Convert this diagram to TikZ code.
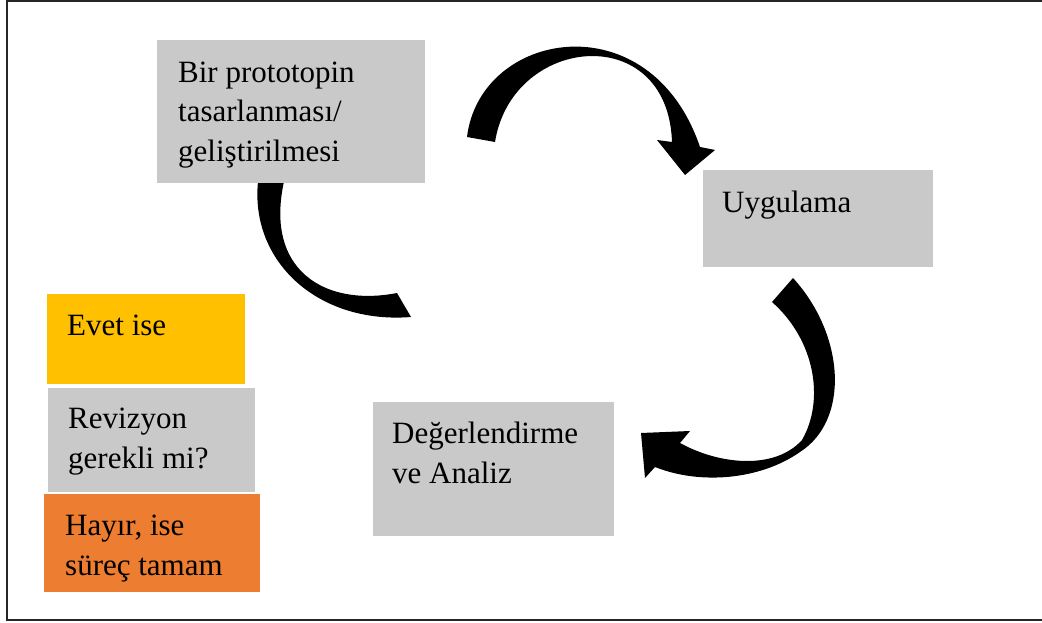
\documentclass[tikz,border=0pt]{standalone}
\usepackage{fontspec}
\setmainfont{Liberation Serif}
\usetikzlibrary{positioning,calc}

\definecolor{boxgray}{HTML}{C9C9C9}
\definecolor{evetyellow}{HTML}{FFC000}
\definecolor{hayirorange}{HTML}{ED7D31}

\begin{document}
\begin{tikzpicture}[x=1pt,y=-1pt,
		box/.style={rectangle,fill=boxgray,anchor=north west,inner sep=0pt},
		txt/.style={anchor=base west,inner sep=0pt,align=left,
			font=\fontsize{31}{40}\selectfont},
		ribbon/.style={fill=black,draw=none}]
	\useasboundingbox (0,0) rectangle (1042,623);
	\draw[line width=1.5pt,draw=black!85] (7,1) rectangle (1046,620);

	% curved arrows
	\path[ribbon] (262,160) .. controls (238,250) and (310,325) .. (411,317)
		-- (397,293) .. controls (320,308) and (255,265) .. (290,160) -- cycle;
	\path[ribbon] (467,137) .. controls (480,30) and (650,0) .. (700,147)
		-- (715,150) -- (685,175) -- (657,140) -- (672,142)
		.. controls (668,20) and (512,35) .. (495,142) -- cycle;
	\path[ribbon] (793,278) .. controls (845,335) and (850,420) .. (800,452)
		.. controls (760,480) and (700,485) .. (655,467)
		-- (645,478) -- (641,433) -- (690,431) -- (680,443)
		.. controls (720,465) and (775,470) .. (802,440)
		.. controls (825,400) and (815,340) .. (772,302) -- cycle;

	% boxes
	\node[box,minimum width=268pt,minimum height=143pt] (proto) at (157,40) {};
	\node[box,minimum width=230pt,minimum height=97pt] (uyg) at (703,170) {};
	\node[box,minimum width=241pt,minimum height=134pt] (deg) at (373,402) {};
	\node[box,fill=evetyellow,minimum width=198pt,minimum height=90pt] (evet) at (47,294) {};
	\node[box,minimum width=207pt,minimum height=104pt] (rev) at (48,388) {};
	\node[box,fill=hayirorange,minimum width=216pt,minimum height=98pt] (hayir) at (44,494) {};

	% texts (anchored at the baseline of the last line)
	\node[txt] (protoT) at ([shift={(21,122)}]proto.north west) {Bir prototopin\\tasarlanması/\\geliştirilmesi};
	\node[txt] (uygT) at ([shift={(19,42)}]uyg.north west) {Uygulama};
	\node[txt] (degT) at ([shift={(19,81)}]deg.north west) {Değerlendirme\\ve Analiz};
	\node[txt] (evetT) at ([shift={(20,41)}]evet.north west) {Evet ise};
	\node[txt] (revT) at ([shift={(20,80)}]rev.north west) {Revizyon\\gerekli mi?};
	\node[txt] (hayirT) at ([shift={(21,81)}]hayir.north west) {Hayır, ise\\süreç tamam};
\end{tikzpicture}
\end{document}
